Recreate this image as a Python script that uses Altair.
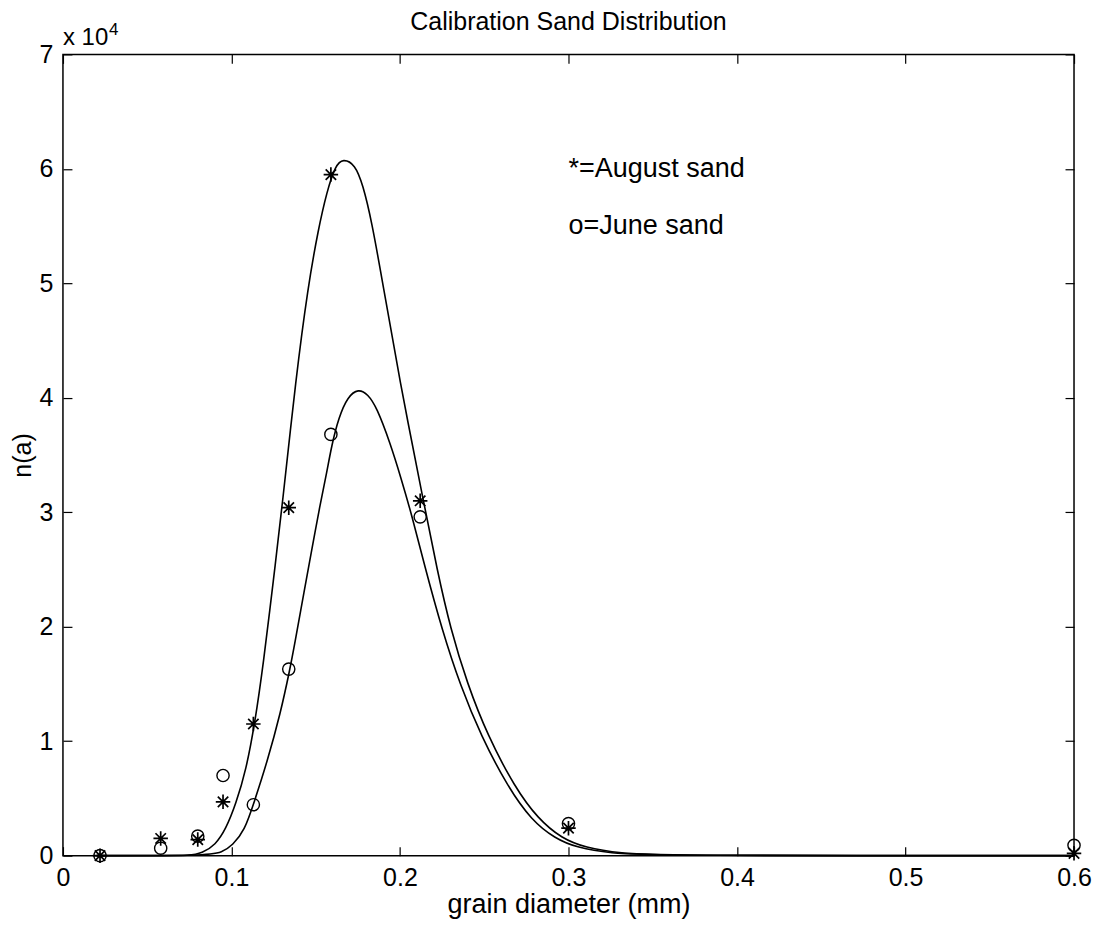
import altair as alt
import pandas as pd

# ---------------- data ----------------
grain_x = [0.022, 0.058, 0.080, 0.095, 0.113, 0.134, 0.159, 0.212, 0.300, 0.600]
august_n = [0, 1500, 1400, 4700, 11500, 30400, 59500, 31000, 2400, 200]
june_n = [0, 650, 1700, 7000, 4450, 16300, 36800, 29600, 2800, 900]

august_fit_x = [0.020, 0.060, 0.075, 0.0825, 0.0905, 0.0966, 0.1026, 0.1087, 0.1138,
                0.1189, 0.1250, 0.1300, 0.1383, 0.1454, 0.1515, 0.1566, 0.1617, 0.1662,
                0.1733, 0.1780, 0.1831, 0.1898, 0.1994, 0.2143, 0.2220, 0.2300, 0.2400,
                0.2520, 0.2680, 0.2820, 0.2960, 0.3100, 0.3300, 0.3600, 0.6000]
august_fit_n = [0, 0, 0, 200, 940, 2300, 4500, 7500, 11500,
                16700, 24200, 30400, 41800, 49700, 54700, 58000, 60300, 60900,
                60400, 58600, 55500, 50000, 41800, 30700, 25000, 19800, 15000,
                10500, 6000, 3200, 1500, 700, 200, 0, 0]

june_fit_x = [0.020, 0.085, 0.0946, 0.1006, 0.1078, 0.1133, 0.1210, 0.1292, 0.1347,
              0.1373, 0.1434, 0.1475, 0.1525, 0.1566, 0.1594, 0.1637, 0.1690, 0.1753,
              0.1810, 0.1861, 0.1943, 0.2004, 0.2073, 0.2143, 0.2252, 0.2360, 0.2480,
              0.2640, 0.2780, 0.2920, 0.3050, 0.3250, 0.3500, 0.6000]
june_fit_n = [0, 0, 300, 900, 2200, 4600, 8100, 12500, 16300,
              18300, 23300, 26600, 30600, 33500, 35800, 38300, 40100, 40800,
              40300, 39200, 36000, 33100, 29600, 25500, 19600, 14800, 10500,
              6000, 3100, 1500, 700, 200, 0, 0]

x_ticks = [0, 0.1, 0.2, 0.3, 0.4, 0.5, 0.6]
y_ticks = [0, 10000, 20000, 30000, 40000, 50000, 60000, 70000]

legend_x = [0.3, 0.3]
legend_n = [60000, 55000]
legend_text = ["*=August sand", "o=June sand"]

exp_x = [0]
exp_n = [70000]
exp_base = ["x 10"]
exp_power = ["4"]

title_x = [0.3]
title_n = [70000]
title_text = ["Calibration Sand Distribution"]
x_title = "grain diameter (mm)"
y_title = "n(a)"

# ---------------- chart ----------------
W, H = 1012, 802
FONT = "Liberation Sans"
STAR = "M-1,0L1,0M0,-1L0,1M-0.72,-0.72L0.72,0.72M-0.72,0.72L0.72,-0.72"

xs = alt.Scale(domain=[0, 0.6], nice=False, zero=False)
ys = alt.Scale(domain=[0, 70000], nice=False, zero=False)

aug_fit = pd.DataFrame({"x": august_fit_x, "n": august_fit_n})
jun_fit = pd.DataFrame({"x": june_fit_x, "n": june_fit_n})
aug_pts = pd.DataFrame({"x": grain_x, "n": august_n})
jun_pts = pd.DataFrame({"x": grain_x, "n": june_n})
leg = pd.DataFrame({"x": legend_x, "n": legend_n, "t": legend_text})
expo = pd.DataFrame({"x": exp_x, "n": exp_n, "b": exp_base, "p": exp_power})
ttl = pd.DataFrame({"x": title_x, "n": title_n, "t": title_text})

tick_only = dict(labels=False, domain=False, grid=False, ticks=True,
                 tickColor="black", tickWidth=1.2, tickSize=9, title="")

line_style = dict(color="black", strokeWidth=1.6, interpolate="basis")


def nx():
    return alt.X("x:Q", scale=xs, axis=None)


def ny():
    return alt.Y("n:Q", scale=ys, axis=None)


# August fit: carries the labelled axes
aug_line = alt.Chart(aug_fit).mark_line(**line_style).encode(
    x=alt.X("x:Q", scale=xs, axis=alt.Axis(
        orient="bottom", values=x_ticks, format=".1~f", ticks=False, domain=False,
        grid=False, labelPadding=10, labelFont=FONT, labelFontSize=25,
        labelColor="black", labelFlush=False, title=x_title, titleFont=FONT,
        titleFontSize=27, titleFontWeight="normal", titleColor="black",
        titlePadding=1)),
    y=alt.Y("n:Q", scale=ys, axis=alt.Axis(
        orient="left", values=y_ticks, labelExpr="datum.value / 10000",
        ticks=False, domain=False, grid=False, labelPadding=10, labelFont=FONT,
        labelFontSize=25, labelColor="black", labelFlush=False, title=y_title,
        titleFont=FONT, titleFontSize=25, titleFontWeight="normal",
        titleColor="black", titlePadding=4)),
)

# June fit: inward ticks on bottom and left edges
jun_line = alt.Chart(jun_fit).mark_line(**line_style).encode(
    x=alt.X("x:Q", scale=xs, axis=alt.Axis(orient="top", offset=-H, values=x_ticks, **tick_only)),
    y=alt.Y("n:Q", scale=ys, axis=alt.Axis(orient="right", offset=-W, values=y_ticks, **tick_only)),
)

# June points: inward ticks on top and right edges
jun_marks = alt.Chart(jun_pts).mark_point(
    shape="circle", size=150, filled=False, color="black", strokeWidth=1.4, opacity=1
).encode(
    x=alt.X("x:Q", scale=xs, axis=alt.Axis(orient="bottom", offset=-H, values=x_ticks, **tick_only)),
    y=alt.Y("n:Q", scale=ys, axis=alt.Axis(orient="left", offset=-W, values=y_ticks, **tick_only)),
)

aug_marks = alt.Chart(aug_pts).mark_point(
    shape=STAR, size=210, filled=False, color="black", strokeWidth=1.7, opacity=1
).encode(x=nx(), y=ny())

legend_layer = alt.Chart(leg).mark_text(
    align="left", baseline="middle", font=FONT, fontSize=27, color="black"
).encode(x=nx(), y=ny(), text="t:N")

title_layer = alt.Chart(ttl).mark_text(
    align="center", baseline="alphabetic", dy=-24, font=FONT, fontSize=25, color="black"
).encode(x=nx(), y=ny(), text="t:N")

exp_base_layer = alt.Chart(expo).mark_text(
    align="left", baseline="alphabetic", dy=-9, font=FONT, fontSize=24, color="black"
).encode(x=nx(), y=ny(), text="b:N")

exp_pow_layer = alt.Chart(expo).mark_text(
    align="left", baseline="alphabetic", dx=46, dy=-19, font=FONT, fontSize=17, color="black"
).encode(x=nx(), y=ny(), text="p:N")

chart = alt.layer(
    aug_line, jun_line, jun_marks, aug_marks, legend_layer, title_layer,
    exp_base_layer, exp_pow_layer
).resolve_axis(
    x="independent", y="independent"
).properties(
    width=W,
    height=H,
    padding={"left": 55, "top": 46, "right": 18, "bottom": 64},
    autosize=alt.AutoSizeParams(type="none"),
    background="white",
).configure_view(
    stroke="black", strokeWidth=1.5
)

chart.save("out.html", embed_options={"renderer": "svg", "actions": False})
